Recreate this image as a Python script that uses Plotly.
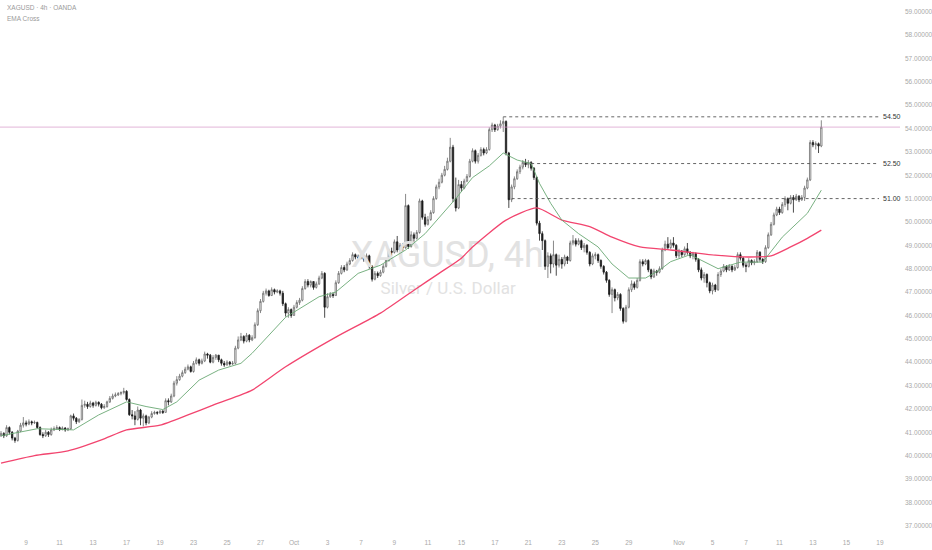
import plotly.graph_objects as go

# XAGUSD 4h candles (open of each bar = close of the bar before)
first_open = 40.85

closes = [
    40.95, 40.85, 41.20, 41.00, 40.75, 40.65, 41.05, 41.30, 41.40, 41.35,
    41.45, 41.40, 41.42, 41.20, 40.90, 40.85, 41.00, 40.90, 41.10, 41.15,
    41.20, 41.12, 41.18, 41.10, 41.15, 41.70, 41.60, 41.45, 41.55, 42.15,
    42.20, 42.10, 42.25, 42.15, 42.28, 42.20, 42.05, 42.10, 42.30, 42.45,
    42.55, 42.60, 42.65, 42.70, 42.75, 42.40, 41.75, 41.70, 41.55, 41.95,
    41.60, 41.70, 41.40, 41.65, 41.80, 41.85, 41.82, 41.90, 41.85, 42.35,
    42.30, 42.55, 43.10, 43.25, 43.40, 43.55, 43.70, 43.80, 43.60, 43.95,
    44.10, 43.95, 44.05, 44.35, 44.30, 44.00, 44.20, 44.30, 44.10, 43.95,
    43.88, 44.00, 43.92, 43.95, 44.60, 44.95, 45.10, 44.90, 45.15, 44.95,
    45.05, 45.60, 46.20, 46.60, 46.95, 47.05, 46.85, 47.10, 47.00, 47.05,
    46.95, 46.50, 46.10, 46.25, 46.00, 46.35, 46.55, 46.65, 47.15, 47.45,
    47.30, 47.45, 47.20, 47.35, 47.60, 47.80, 46.35, 46.80, 46.90, 46.85,
    47.40, 47.80, 48.05, 47.95, 48.20, 48.35, 48.60, 48.50, 48.45, 48.55,
    48.40, 48.55, 48.10, 47.55, 47.80, 47.70, 47.85, 48.10, 48.35, 48.75,
    48.70, 49.15, 48.80, 49.00, 48.90, 50.70, 48.95, 49.45, 49.30, 49.55,
    50.90, 50.20, 49.90, 50.10, 50.40, 51.00, 51.50, 51.70, 52.00, 52.25,
    52.60, 53.20, 51.00, 50.60, 51.60, 51.45, 51.75, 51.95, 52.60, 53.05,
    52.60, 52.85, 53.10, 52.95, 53.10, 53.95, 54.15, 53.95, 54.10, 54.20,
    54.30, 52.95, 50.95, 51.50, 51.85, 52.15, 52.35, 52.55, 52.45, 52.55,
    52.30, 51.90, 49.95, 49.50, 49.20, 48.10, 48.55, 48.20, 48.60, 48.15,
    48.40, 48.20, 48.50, 48.35, 49.10, 49.20, 49.05, 49.20, 48.90, 49.00,
    48.70, 48.20, 48.55, 48.60, 48.35, 48.10, 47.85, 47.50, 46.90, 47.10,
    46.75, 46.90, 46.30, 45.75, 46.35, 47.10, 47.35, 47.20, 47.50, 48.30,
    48.20, 48.35, 47.95, 47.65, 47.90, 47.85, 48.00, 48.80, 49.05, 48.90,
    49.10, 49.00, 48.55, 48.75, 48.60, 48.85, 48.70, 48.55, 48.65, 48.40,
    47.95, 47.60, 47.75, 47.40, 47.05, 47.30, 47.10, 47.75, 47.90, 48.10,
    47.95, 48.10, 47.95, 48.05, 48.60, 48.45, 48.15, 48.10, 48.35, 48.25,
    48.30, 48.70, 48.40, 48.30, 48.90, 49.45, 49.90, 50.30, 50.55, 50.40,
    50.75, 51.00, 50.80, 51.05, 50.95, 51.10, 50.95, 51.05, 51.45, 51.80,
    53.40, 53.30, 53.35, 53.25, 54.06,
]

highs = [
    41.05, 41.00, 41.30, 41.25, 41.05, 40.80, 41.10, 41.40, 41.65, 41.50,
    41.55, 41.50, 41.50, 41.45, 41.25, 41.00, 41.10, 41.05, 41.20, 41.25,
    41.30, 41.25, 41.25, 41.22, 41.20, 41.75, 41.80, 41.65, 41.60, 42.40,
    42.35, 42.30, 42.35, 42.30, 42.35, 42.32, 42.25, 42.20, 42.35, 42.55,
    42.65, 42.70, 42.72, 42.75, 42.90, 42.80, 42.45, 41.95, 41.90, 42.10,
    42.00, 41.80, 41.75, 41.70, 41.90, 41.92, 41.90, 41.95, 41.95, 42.45,
    42.45, 42.65, 43.20, 43.40, 43.50, 43.65, 43.80, 43.90, 43.85, 44.05,
    44.20, 44.15, 44.15, 44.45, 44.40, 44.35, 44.30, 44.35, 44.30, 44.15,
    44.05, 44.08, 44.05, 44.05, 44.70, 45.10, 45.25, 45.15, 45.25, 45.20,
    45.15, 45.70, 46.30, 46.70, 47.05, 47.15, 47.10, 47.20, 47.15, 47.12,
    47.10, 47.05, 46.55, 46.35, 46.30, 46.45, 46.65, 46.75, 47.25, 47.55,
    47.55, 47.50, 47.45, 47.45, 47.70, 47.90, 47.85, 46.95, 47.00, 46.98,
    47.50, 47.90, 48.15, 48.15, 48.30, 48.45, 48.70, 48.65, 48.60, 48.62,
    48.60, 48.65, 48.60, 48.15, 47.90, 47.88, 47.95, 48.20, 48.45, 48.85,
    48.90, 49.25, 49.40, 49.10, 49.10, 51.20, 50.75, 49.60, 49.55, 49.65,
    51.00, 50.95, 50.35, 50.25, 50.50, 51.10, 51.60, 51.85, 52.10, 52.40,
    52.75, 53.60, 53.30, 51.90, 51.80, 51.75, 51.85, 52.05, 52.70, 53.15,
    53.10, 52.95, 53.20, 53.18, 53.20, 54.05, 54.25, 54.20, 54.20, 54.35,
    54.50, 54.35, 53.00, 51.60, 51.95, 52.25, 52.45, 52.65, 52.70, 52.65,
    52.60, 52.35, 51.95, 50.05, 49.60, 49.25, 48.70, 48.65, 49.20, 48.65,
    48.60, 48.50, 48.60, 48.55, 49.20, 49.44, 49.30, 49.30, 49.25, 49.10,
    49.05, 48.75, 48.65, 48.70, 48.65, 48.40, 48.15, 47.90, 47.55, 47.20,
    47.15, 47.00, 46.95, 46.35, 46.45, 47.20, 47.50, 47.45, 47.60, 48.40,
    48.40, 48.42, 48.40, 48.00, 48.00, 47.95, 48.10, 48.90, 49.20, 49.35,
    49.25, 49.35, 49.05, 48.85, 48.80, 48.95, 49.10, 48.75, 48.72, 48.70,
    48.45, 48.05, 47.85, 47.80, 47.45, 47.40, 47.35, 47.85, 48.00, 48.20,
    48.15, 48.20, 48.15, 48.15, 48.70, 48.70, 48.50, 48.25, 48.45, 48.40,
    48.40, 48.80, 48.75, 48.45, 49.00, 49.55, 50.00, 50.40, 50.65, 50.65,
    50.85, 51.10, 51.05, 51.15, 51.15, 51.20, 51.15, 51.15, 51.55, 51.90,
    53.50, 53.50, 53.45, 53.40, 54.35,
]

lows = [
    40.80, 40.75, 40.80, 40.90, 40.65, 40.55, 40.60, 41.00, 41.20, 41.25,
    41.30, 41.30, 41.35, 41.15, 40.85, 40.75, 40.80, 40.80, 40.85, 41.05,
    41.10, 41.05, 41.08, 41.02, 41.05, 41.10, 41.50, 41.35, 41.40, 41.50,
    42.05, 42.00, 42.05, 42.05, 42.10, 42.10, 41.98, 42.00, 42.05, 42.25,
    42.40, 42.50, 42.55, 42.58, 42.62, 42.35, 41.70, 41.55, 41.30, 41.50,
    41.30, 41.25, 41.30, 41.35, 41.60, 41.75, 41.75, 41.80, 41.78, 41.85,
    42.15, 42.25, 42.50, 43.00, 43.20, 43.35, 43.50, 43.65, 43.55, 43.55,
    43.90, 43.85, 43.90, 44.00, 44.15, 43.95, 43.95, 44.10, 44.00, 43.85,
    43.80, 43.85, 43.85, 43.88, 43.90, 44.55, 44.90, 44.80, 44.85, 44.85,
    44.90, 45.00, 45.55, 46.10, 46.55, 46.85, 46.80, 46.85, 46.90, 46.95,
    46.85, 46.40, 45.95, 45.90, 45.90, 45.98, 46.30, 46.45, 46.60, 47.10,
    47.20, 47.20, 47.10, 47.15, 47.30, 47.55, 45.90, 46.30, 46.75, 46.75,
    46.85, 47.35, 47.75, 47.85, 47.90, 48.15, 48.30, 48.40, 48.35, 48.40,
    48.30, 48.35, 48.00, 47.45, 47.50, 47.60, 47.65, 47.80, 48.05, 48.30,
    48.55, 48.65, 48.70, 48.65, 48.75, 48.85, 48.85, 48.90, 49.15, 49.25,
    49.50, 50.10, 49.80, 49.85, 50.05, 50.35, 50.95, 51.40, 51.65, 51.95,
    52.20, 52.55, 50.85, 50.45, 50.55, 51.30, 51.40, 51.70, 51.90, 52.55,
    52.50, 52.50, 52.80, 52.85, 52.90, 53.05, 53.85, 53.85, 53.90, 54.00,
    53.85, 52.85, 50.60, 50.85, 51.40, 51.80, 52.05, 52.25, 52.35, 52.30,
    52.20, 51.80, 49.85, 49.20, 48.80, 47.95, 47.60, 47.80, 48.05, 47.70,
    48.05, 48.00, 48.10, 48.20, 48.30, 49.00, 48.95, 49.00, 48.80, 48.70,
    48.60, 48.10, 48.15, 48.40, 48.25, 48.00, 47.75, 47.40, 46.80, 46.10,
    46.60, 46.65, 46.20, 45.65, 45.70, 46.30, 47.00, 47.10, 47.15, 47.45,
    48.10, 48.15, 47.85, 47.55, 47.60, 47.70, 47.80, 47.95, 48.75, 48.80,
    48.85, 48.90, 48.45, 48.45, 48.50, 48.55, 48.60, 48.45, 48.40, 48.30,
    47.85, 47.50, 47.40, 47.20, 46.95, 46.90, 47.00, 47.05, 47.65, 47.85,
    47.85, 47.90, 47.85, 47.90, 48.00, 48.35, 48.05, 47.85, 48.05, 48.15,
    48.15, 48.25, 48.30, 48.20, 48.25, 48.85, 49.40, 49.85, 50.25, 50.30,
    50.35, 50.65, 50.50, 50.75, 50.40, 50.90, 50.85, 50.90, 50.90, 51.40,
    51.75, 53.20, 53.10, 52.95, 53.20,
]

opens = [first_open] + closes[:-1]
bars = list(range(len(closes)))

# EMA Cross indicator, read at sample bars
ema_fast_bars = [0, 7, 13, 26, 35, 45, 52, 58, 63, 71, 78, 86, 90, 102, 114, 120, 128, 136,
                 145, 152, 157, 160, 163, 169, 175, 180, 185, 190, 193, 197, 201, 207, 214,
                 219, 225, 231, 236, 240, 247, 257, 265, 273, 280, 289, 294]
ema_fast_vals = [40.85, 41.0, 41.15, 41.1, 41.74, 42.3, 42.1, 41.97, 42.3, 43.23, 43.66, 43.95,
                 44.38, 45.92, 46.8, 47.0, 47.8, 48.15, 48.8, 49.5, 50.2, 50.6, 51.0, 51.9, 52.4,
                 52.95, 52.65, 52.5, 51.65, 50.8, 50.08, 49.5, 48.93, 48.2, 47.6, 47.6, 47.94,
                 48.3, 48.6, 48.0, 48.28, 48.28, 49.35, 50.37, 51.36]

ema_slow_bars = [0, 12, 24, 36, 45, 57, 67, 76, 86, 90, 102, 120, 136, 148, 157, 165, 169, 181,
                 192, 201, 211, 219, 229, 240, 256, 268, 276, 283, 289, 294]
ema_slow_vals = [39.68, 40.0, 40.2, 40.67, 41.1, 41.3, 41.74, 42.16, 42.6, 42.8, 43.8, 45.07,
                 46.1, 47.08, 47.8, 48.45, 48.93, 50.08, 50.6, 50.08, 49.8, 49.35, 48.93, 48.8,
                 48.58, 48.5, 48.55, 48.93, 49.3, 49.65]

# horizontal levels drawn on the chart
level_prices = [54.50, 52.50, 51.00]
level_start_bars = [180, 190, 183]
level_labels = ['54.50', '52.50', '51.00']

# time axis
tick_bars = [9, 21, 33, 45, 57, 69, 81, 93, 105, 117, 129, 141, 153, 165, 177, 189, 201, 213,
             225, 243, 255, 267, 279, 291, 303, 315]
tick_text = ['9', '11', '13', '17', '19', '23', '25', '27', 'Oct', '3', '7', '9', '11', '15',
             '17', '21', '23', '25', '29', 'Nov', '5', '7', '11', '13', '15', '19']

price_ticks = list(range(37, 60))

xr = [-0.36, 322.2]
yr = [36.73, 59.5]

font = 'Liberation Sans'
axis_grey = '#a9a9a9'

fig = go.Figure()

# watermark under the candles
wm_x = xr[0] + 0.497 * (xr[1] - xr[0])
fig.add_trace(go.Scatter(x=[wm_x], y=[yr[0] + 0.515 * (yr[1] - yr[0])], mode='text',
                         text=['XAGUSD, 4h'], textposition='middle center',
                         textfont=dict(family='Roboto', size=36, color='#e2e2e2'),
                         hoverinfo='skip', showlegend=False))
fig.add_trace(go.Scatter(x=[wm_x + 0.3], y=[yr[0] + 0.455 * (yr[1] - yr[0])], mode='text',
                         text=['Silver / U.S. Dollar'], textposition='middle center',
                         textfont=dict(family='Roboto', size=17, color='#e2e2e2'),
                         hoverinfo='skip', showlegend=False))

fig.add_trace(go.Scatter(x=ema_slow_bars, y=ema_slow_vals, mode='lines', line_shape='spline',
                         line=dict(color='#f2456f', width=1.3, smoothing=0.6),
                         hoverinfo='skip', showlegend=False))
fig.add_trace(go.Scatter(x=ema_fast_bars, y=ema_fast_vals, mode='lines',
                         line=dict(color='#6aa874', width=0.9), hoverinfo='skip', showlegend=False))

fig.add_trace(go.Candlestick(
    x=bars, open=opens, high=highs, low=lows, close=closes,
    increasing=dict(line=dict(color='#6b6b6b', width=0.8), fillcolor='#ffffff'),
    decreasing=dict(line=dict(color='#1c1c1c', width=0.8), fillcolor='#1c1c1c'),
    whiskerwidth=0, hoverinfo='skip', showlegend=False))

# last price line
fig.add_hline(y=closes[-1], line=dict(color='rgba(214,150,200,0.7)', width=1))

level_end = xr[0] + (879 / 900) * (xr[1] - xr[0])
for p, b0, lab in zip(level_prices, level_start_bars, level_labels):
    fig.add_shape(type='line', x0=b0, x1=level_end, y0=p, y1=p, xref='x', yref='y',
                  line=dict(color='#555555', width=0.9, dash='3px,3px'))
    fig.add_annotation(x=881 / 900, xref='paper', y=p, yref='y', text=lab, showarrow=False,
                       xanchor='left', yanchor='middle',
                       font=dict(family=font, size=7, color='#333333'))

fig.add_annotation(x=0.005, xref='paper', y=0.985, yref='paper', text='XAGUSD · 4h · OANDA',
                   showarrow=False, xanchor='left', yanchor='middle',
                   font=dict(family=font, size=6.5, color='#9a9a9a'))
fig.add_annotation(x=0.005, xref='paper', y=0.966, yref='paper', text='EMA Cross',
                   showarrow=False, xanchor='left', yanchor='middle',
                   font=dict(family=font, size=6.5, color='#9a9a9a'))

fig.update_layout(
    width=932, height=550,
    margin=dict(l=0, r=32, t=0, b=18),
    paper_bgcolor='white', plot_bgcolor='white',
    showlegend=False,
    xaxis=dict(range=xr, rangeslider=dict(visible=False), showgrid=False, zeroline=False,
               tickmode='array', tickvals=tick_bars, ticktext=tick_text, ticks='',
               ticklabelstandoff=5,
               tickfont=dict(family=font, size=6.5, color=axis_grey), showline=False),
    yaxis=dict(range=yr, side='right', showgrid=False, zeroline=False,
               tickmode='array', tickvals=price_ticks, tickformat='.5f', ticks='',
               ticklabelstandoff=4,
               tickfont=dict(family=font, size=6.5, color=axis_grey), showline=False),
)

# page body has a default margin; remove it so the chart fills the window
fig.write_html('out.html', config={'displayModeBar': False},
               post_script="document.body.style.margin='0';document.body.style.overflow='hidden';")
